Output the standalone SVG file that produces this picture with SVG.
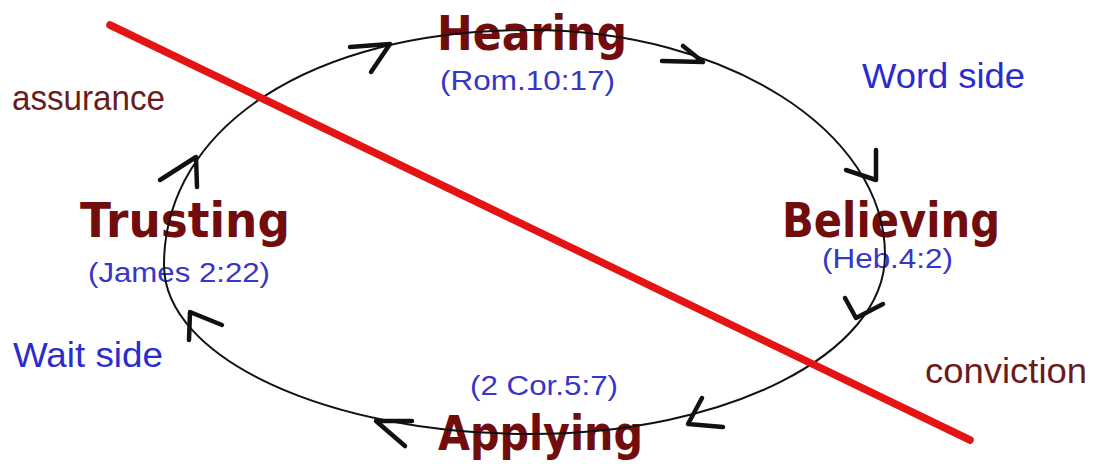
<svg xmlns="http://www.w3.org/2000/svg" width="1094" height="468" viewBox="0 0 1094 468">
<style>
.title{font-family:"DejaVu Sans","Liberation Sans",sans-serif;font-weight:bold;font-size:48px;fill:#720d0d}
.ref{font-family:"Liberation Sans",Arial,sans-serif;font-size:27px;fill:#3636c8}
.side{font-family:"Liberation Sans",Arial,sans-serif;font-size:35px}
.blue{fill:#2b2bd0}
.brown{fill:#6a1c1c}
.cycle{fill:none;stroke:#111;stroke-width:2}
.head{fill:none;stroke:#111;stroke-width:4.5;stroke-linecap:round;stroke-linejoin:round}
</style>
<rect width="1094" height="468" fill="#fff"/>
<g id="hearing">
<text class="title" x="437" y="50" textLength="190" lengthAdjust="spacingAndGlyphs">Hearing</text>
<text class="ref" x="440" y="90" textLength="175" lengthAdjust="spacingAndGlyphs">(Rom.10:17)</text>
</g>
<g id="believing">
<text class="title" x="782" y="237" textLength="218" lengthAdjust="spacingAndGlyphs">Believing</text>
<text class="ref" x="822" y="268" textLength="131" lengthAdjust="spacingAndGlyphs">(Heb.4:2)</text>
</g>
<g id="applying">
<text class="ref" x="470" y="395" textLength="148" lengthAdjust="spacingAndGlyphs">(2 Cor.5:7)</text>
<text class="title" x="438" y="450" textLength="205" lengthAdjust="spacingAndGlyphs">Applying</text>
</g>
<g id="trusting">
<text class="title" x="80" y="237" textLength="210" lengthAdjust="spacingAndGlyphs">Trusting</text>
<text class="ref" x="88" y="282" textLength="182" lengthAdjust="spacingAndGlyphs">(James 2:22)</text>
</g>
<g id="labels">
<text class="side brown" x="12" y="110" textLength="153" lengthAdjust="spacingAndGlyphs">assurance</text>
<text class="side blue" x="862" y="88" textLength="163" lengthAdjust="spacingAndGlyphs">Word side</text>
<text class="side blue" x="13" y="367" textLength="150" lengthAdjust="spacingAndGlyphs">Wait side</text>
<text class="side brown" x="925" y="383" textLength="162" lengthAdjust="spacingAndGlyphs">conviction</text>
</g>
<g id="connectors">
<path class="cycle" d="M530,30 C726,30 885,131 885,255 C885,354 726,434 530,434 C328,434 164,358 164,265 C164,128 310,30 530,30 Z"/>
<polyline class="head" points="350,47 390,44 371,72"/>
<polyline class="head" points="683,46 703,62 662,61"/>
<polyline class="head" points="876,150 876,180 846,170"/>
<polyline class="head" points="845,298 856,318 883,304"/>
<polyline class="head" points="702,398 688,424 723,427"/>
<polyline class="head" points="412,421 376,421 405,446"/>
<polyline class="head" points="189,340 190,312 222,325"/>
<polyline class="head" points="160,180 196,157 197,187"/>
</g>
<line id="divider" x1="110" y1="25" x2="970" y2="440" stroke="#e41414" stroke-width="7.5" stroke-linecap="round"/>
</svg>
